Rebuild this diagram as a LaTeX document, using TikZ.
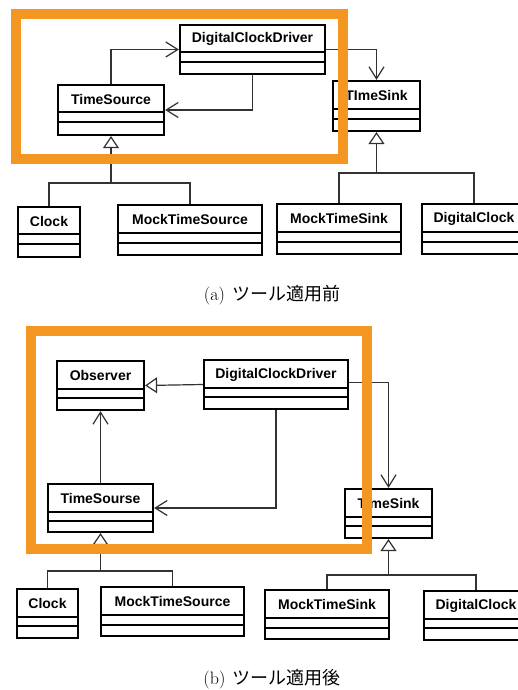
\documentclass[tikz,border=0pt]{standalone}
\usepackage{fontspec}
\usetikzlibrary{arrows.meta,calc}
\newfontfamily\umlfont{Liberation Sans}
\newfontfamily\jpfont{Noto Sans CJK JP}
\definecolor{frameorange}{RGB}{243,150,34}
\definecolor{conn}{RGB}{50,50,50}
\newcommand{\umlclass}[8]{%
  \node[classbox, minimum width={(#4-#2-2)*1pt}, minimum height={(#5-#3-2)*1pt}] (#1) at ({(#2+#4)/2},{(#3+#5)/2}) {};
  \draw[sepline] (#2,#6) -- (#4,#6);
  \draw[sepline] (#2,#7) -- (#4,#7);
  \node[classtitle] (#1-t) at ({(#2+#4)/2},{(#3+#6)/2+1}) {#8};
}
\begin{document}
\begin{tikzpicture}[x=1pt,y=-1pt,
  classbox/.style={draw=black, line width=2.2pt, rectangle, inner sep=0pt, fill=white},
  sepline/.style={draw=black, line width=1.1pt},
  classtitle/.style={inner sep=0pt, font=\umlfont\bfseries\fontsize{14}{16}\selectfont},
  assoc/.style={draw=conn, line width=1.2pt, -{Straight Barb[length=12pt,width=15pt,line width=1.2pt]}},
  gen/.style={draw=conn, line width=1.2pt, -{Triangle[open,length=12pt,width=16pt,line width=1.2pt,fill=white]}},
  tree/.style={draw=conn, line width=1.2pt},
  frame/.style={draw=frameorange, line width=10pt},
  caption/.style={inner sep=0pt, font=\fontsize{18}{21}\selectfont}
]
\useasboundingbox (0,0) rectangle (518,690);
\clip (0,0) rectangle (518,690);
\fill[white] (0,0) rectangle (518,690);

% ---------- (a) ----------
\umlclass{dcd}{179}{24}{326}{75}{52}{62}{DigitalClockDriver}
\umlclass{ts}{57}{84}{165}{136}{112}{122}{TimeSource}
\umlclass{sink}{332}{80}{421}{132}{109}{119}{TImeSink}
\umlclass{clock}{17}{206}{81}{258}{234}{244}{Clock}
\umlclass{mts}{117}{204}{263}{256}{233}{243}{MockTimeSource}
\umlclass{mtsink}{276}{203}{402}{255}{232}{242}{MockTimeSink}
\umlclass{dclock}{421}{203}{527}{255}{232}{242}{DigitalClock}

\draw[assoc] (ts.north) |- (dcd.west);
\draw[assoc] (dcd.south) |- (ts.east);
\draw[assoc] (dcd.east) -| (sink.north);
\coordinate (ja) at (ts.south |- 0,183);
\coordinate (jb) at (sink.south |- 0,173);
\draw[gen] (ja) -- (ts.south);
\draw[tree] (clock.north) |- (ja) -| (mts.north);
\draw[gen] (jb) -- (sink.south);
\draw[tree] (mtsink.north) |- (jb) -| (dclock.north);

\draw[frame] (15.5,14.5) rectangle (342.5,158.5);
\node[caption] (capa) at (272,295) {(a)\hspace{0.4em}{\jpfont ツール適用前}};

% ---------- (b) ----------
\umlclass{obs}{56}{360}{145}{411}{389}{398}{Observer}
\umlclass{dcdb}{203}{359}{349}{410}{388}{397}{DigitalClockDriver}
\umlclass{tso}{47}{483}{154}{533}{512}{521}{TimeSourse}
\umlclass{sinkb}{344}{488}{433}{539}{517}{526}{TimeSink}
\umlclass{clockb}{16}{588}{79}{639}{617}{626}{Clock}
\umlclass{mtsb}{100}{586}{245}{637}{615}{625}{MockTimeSource}
\umlclass{mtsinkb}{264}{589}{390}{640}{618}{628}{MockTimeSink}
\umlclass{dclockb}{423}{590}{529}{641}{619}{628}{DigitalClock}

\draw[gen] (dcdb.west) -- (obs.east);
\draw[assoc] (tso.north) -- (obs.south);
\draw[assoc] (dcdb.south) |- (tso.east);
\draw[assoc] ([yshift=2pt]dcdb.east) -| (sinkb.north);
\coordinate (jc) at (tso.south |- 0,571);
\coordinate (jd) at (sinkb.south |- 0,575);
\draw[gen] (jc) -- (tso.south);
\draw[tree] (clockb.north) |- (jc) -| (mtsb.north);
\draw[gen] (jd) -- (sinkb.south);
\draw[tree] (mtsinkb.north) |- (jd) -| (dclockb.north);

\draw[frame] (31,331) rectangle (367,548.5);
\node[caption] (capb) at (272,679) {(b)\hspace{0.4em}{\jpfont ツール適用後}};
\end{tikzpicture}
\end{document}
